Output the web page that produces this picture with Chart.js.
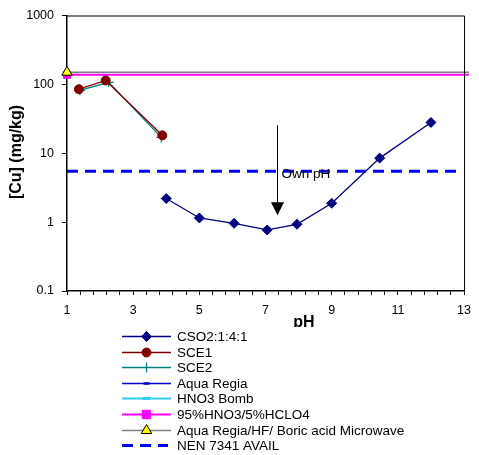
<!DOCTYPE html>
<html>
<head>
<meta charset="utf-8">
<script src="https://cdn.jsdelivr.net/npm/chart.js@4/dist/chart.umd.min.js"></script>
<style>
    body { margin: 0; background: #fff; }
    #wrap { width: 479px; height: 455px; }
</style>
</head>
<body>
<div id="wrap"><canvas id="cuChart" width="479" height="455"></canvas></div>
<script>
// values
const cso2Ph = [4.0, 5.0, 6.05, 7.05, 7.95, 9.0, 10.45, 12.0];
const cso2Cu = [2.2, 1.15, 0.96, 0.77, 0.93, 1.88, 8.5, 28];

const sce1Ph = [1.36, 2.17, 3.88];
const sce1Cu = [85, 114, 18.2];

const sce2Ph = [1.39, 2.26, 3.85];
const sce2Cu = [82, 107, 17];

const aquaRegiaPh = [];
const aquaRegiaCu = [];
const hno3BombPh = [];
const hno3BombCu = [];

const refLinePh = [1, 13.15];
const hclo4Cu = [138, 138];
const boricCu = [150, 150];

const nenPh = [1, 12.9];
const nenCu = [5.5, 5.5];

const xTickLabels = ['1', '3', '5', '7', '9', '11', '13'];
const yTickValues = [0.1, 1, 10, 100, 1000];
const yTickLabels = ['0.1', '1', '10', '100', '1000'];

const ownPh = 7.36;
const arrowFrom = 25.5;
const arrowTo = 1.26;

const FONT = '"Liberation Sans", Arial, sans-serif';

function pts(xs, ys) {
    return xs.map((x, i) => ({ x: x, y: ys[i] }));
}

function firstOnly(r) {
    return ctx => ctx.dataIndex === 0 ? r : 0;
}

const datasets = [
    {
        label: 'CSO2:1:4:1', data: pts(cso2Ph, cso2Cu),
        borderColor: '#000080', backgroundColor: '#000080', borderWidth: 1.3,
        pointStyle: 'rectRot', pointRadius: 5, pointBorderWidth: 1, order: 1
    },
    {
        label: 'SCE1', data: pts(sce1Ph, sce1Cu),
        borderColor: '#800000', backgroundColor: '#800000', borderWidth: 1.3,
        pointStyle: 'circle', pointRadius: 4.5, pointBorderWidth: 1, order: 1
    },
    {
        label: 'SCE2', data: pts(sce2Ph, sce2Cu),
        borderColor: '#008080', backgroundColor: '#008080', borderWidth: 1.3,
        pointStyle: 'cross', pointRadius: 5, pointBorderWidth: 1.2, order: 1
    },
    {
        label: 'Aqua Regia', data: pts(aquaRegiaPh, aquaRegiaCu),
        borderColor: '#0000CC', backgroundColor: '#0000CC', borderWidth: 1.3,
        pointStyle: 'line', pointRadius: 3, pointBorderWidth: 2.5, order: 1
    },
    {
        label: 'HNO3 Bomb', data: pts(hno3BombPh, hno3BombCu),
        borderColor: '#33CCFF', backgroundColor: '#33CCFF', borderWidth: 2,
        pointStyle: 'line', pointRadius: 4, pointBorderWidth: 3, order: 1
    },
    {
        label: '95%HNO3/5%HCLO4', data: pts(refLinePh, hclo4Cu),
        borderColor: '#FF00FF', backgroundColor: '#FF00FF', borderWidth: 2,
        pointStyle: 'rect', pointRadius: firstOnly(5), pointBorderWidth: 1,
        legendRadius: 6, clip: false, order: 1
    },
    {
        label: 'Aqua Regia/HF/ Boric acid Microwave', data: pts(refLinePh, boricCu),
        borderColor: '#808080', backgroundColor: '#FFFF00', borderWidth: 1.5,
        pointStyle: 'triangle', pointRadius: firstOnly(6), pointBorderColor: '#000000',
        pointBorderWidth: 1, legendRadius: 6, clip: false, order: 0
    },
    {
        label: 'NEN 7341 AVAIL', data: pts(nenPh, nenCu),
        borderColor: '#0000FF', backgroundColor: '#0000FF', borderWidth: 3,
        borderDash: [11, 7], pointRadius: 0, order: 1
    }
];

const frame = {
    id: 'frame',
    afterDatasetsDraw(chart) {
        const { ctx, chartArea: a, scales } = chart;
        ctx.save();
        // top and right border
        ctx.strokeStyle = '#000';
        ctx.lineWidth = 1;
        ctx.beginPath();
        ctx.moveTo(a.left, a.top + 0.5);
        ctx.lineTo(a.right + 0.5, a.top + 0.5);
        ctx.lineTo(a.right + 0.5, a.bottom);
        ctx.stroke();

        // own pH arrow
        const ax = Math.round(scales.x.getPixelForValue(ownPh)) + 0.5;
        const y0 = scales.y.getPixelForValue(arrowFrom);
        const y1 = scales.y.getPixelForValue(arrowTo);
        ctx.lineWidth = 1;
        ctx.beginPath();
        ctx.moveTo(ax, y0);
        ctx.lineTo(ax, y1 - 12);
        ctx.stroke();
        ctx.fillStyle = '#000';
        ctx.beginPath();
        ctx.moveTo(ax - 6.5, y1 - 13);
        ctx.lineTo(ax + 6.5, y1 - 13);
        ctx.lineTo(ax, y1);
        ctx.closePath();
        ctx.fill();

        ctx.font = '13.5px ' + FONT;
        ctx.textBaseline = 'alphabetic';
        ctx.textAlign = 'left';
        ctx.fillText('Own pH', ax + 4, 178);
        ctx.restore();
    },
    afterDraw(chart) {
        const { ctx } = chart;
        ctx.save();
        ctx.fillStyle = '#000';
        ctx.font = 'bold 16px ' + FONT;
        ctx.textAlign = 'center';
        ctx.textBaseline = 'middle';
        ctx.fillText('pH', 304, 323);

        ctx.save();
        ctx.translate(17, 152);
        ctx.rotate(-Math.PI / 2);
        ctx.fillText('[Cu] (mg/kg)', 0, 0);
        ctx.restore();

        // legend box
        ctx.fillStyle = '#fff';
        ctx.fillRect(115, 327, 320, 128);

        const x0 = 122, x1 = 171, tx = 177;
        ctx.font = '13.5px ' + FONT;
        ctx.textAlign = 'left';
        ctx.textBaseline = 'middle';
        chart.data.datasets.forEach((ds, i) => {
            const y = Math.round(336 + i * 15.6) + 0.5;
            ctx.save();
            ctx.strokeStyle = ds.borderColor;
            ctx.lineWidth = ds.borderWidth;
            ctx.setLineDash(ds.borderDash || []);
            ctx.beginPath();
            ctx.moveTo(x0, y);
            ctx.lineTo(ds.borderDash ? x1 - 3 : x1, y);
            ctx.stroke();
            ctx.setLineDash([]);
            const r = ds.legendRadius || (typeof ds.pointRadius === 'number' ? ds.pointRadius : 0);
            if (r > 0) {
                ctx.fillStyle = ds.backgroundColor;
                ctx.strokeStyle = ds.pointBorderColor || ds.borderColor;
                ctx.lineWidth = ds.pointBorderWidth || 1;
                Chart.helpers.drawPoint(ctx, {
                    pointStyle: ds.pointStyle, radius: r, borderWidth: ds.pointBorderWidth || 1, rotation: 0
                }, (x0 + x1) / 2, y);
            }
            ctx.restore();
            ctx.fillStyle = '#000';
            ctx.fillText(ds.label, tx, y + 0.5);
        });
        ctx.restore();
    }
};

new Chart(document.getElementById('cuChart'), {
    type: 'line',
    data: { datasets: datasets },
    options: {
        responsive: false,
        animation: false,
        devicePixelRatio: 1,
        layout: { padding: { top: 14, right: 12, left: 0, bottom: 0 } },
        plugins: { legend: { display: false }, tooltip: { enabled: false } },
        elements: { line: { tension: 0 } },
        scales: {
            x: {
                type: 'linear', min: 1, max: 13,
                afterFit: s => { s.height = 164; },
                afterBuildTicks: s => {
                    const t = [];
                    for (let i = 0; i <= 30; i++) t.push({ value: 1 + i * 0.4 });
                    s.ticks = t;
                },
                border: { display: true, color: '#000', width: 1.5 },
                grid: { drawOnChartArea: false, tickLength: 4, color: '#000', tickWidth: 1 },
                ticks: {
                    autoSkip: false, maxRotation: 0, padding: 8, color: '#000',
                    font: { family: FONT, size: 12.5 },
                    callback: (v, i) => {
                        if (i % 5 !== 0) return '';
                        return xTickLabels[i / 5];
                    }
                }
            },
            y: {
                type: 'logarithmic', min: 0.1, max: 1000,
                afterFit: s => { s.width = 67; },
                afterBuildTicks: s => {
                    s.ticks = yTickValues.map(v => ({ value: v }));
                },
                border: { display: true, color: '#000', width: 1.5 },
                grid: { drawOnChartArea: false, tickLength: 5, color: '#000' },
                ticks: {
                    autoSkip: false, padding: 8, color: '#000',
                    font: { family: FONT, size: 12.5 },
                    callback: (v, i) => yTickLabels[i]
                }
            }
        }
    },
    plugins: [frame]
});
</script>
</body>
</html>
